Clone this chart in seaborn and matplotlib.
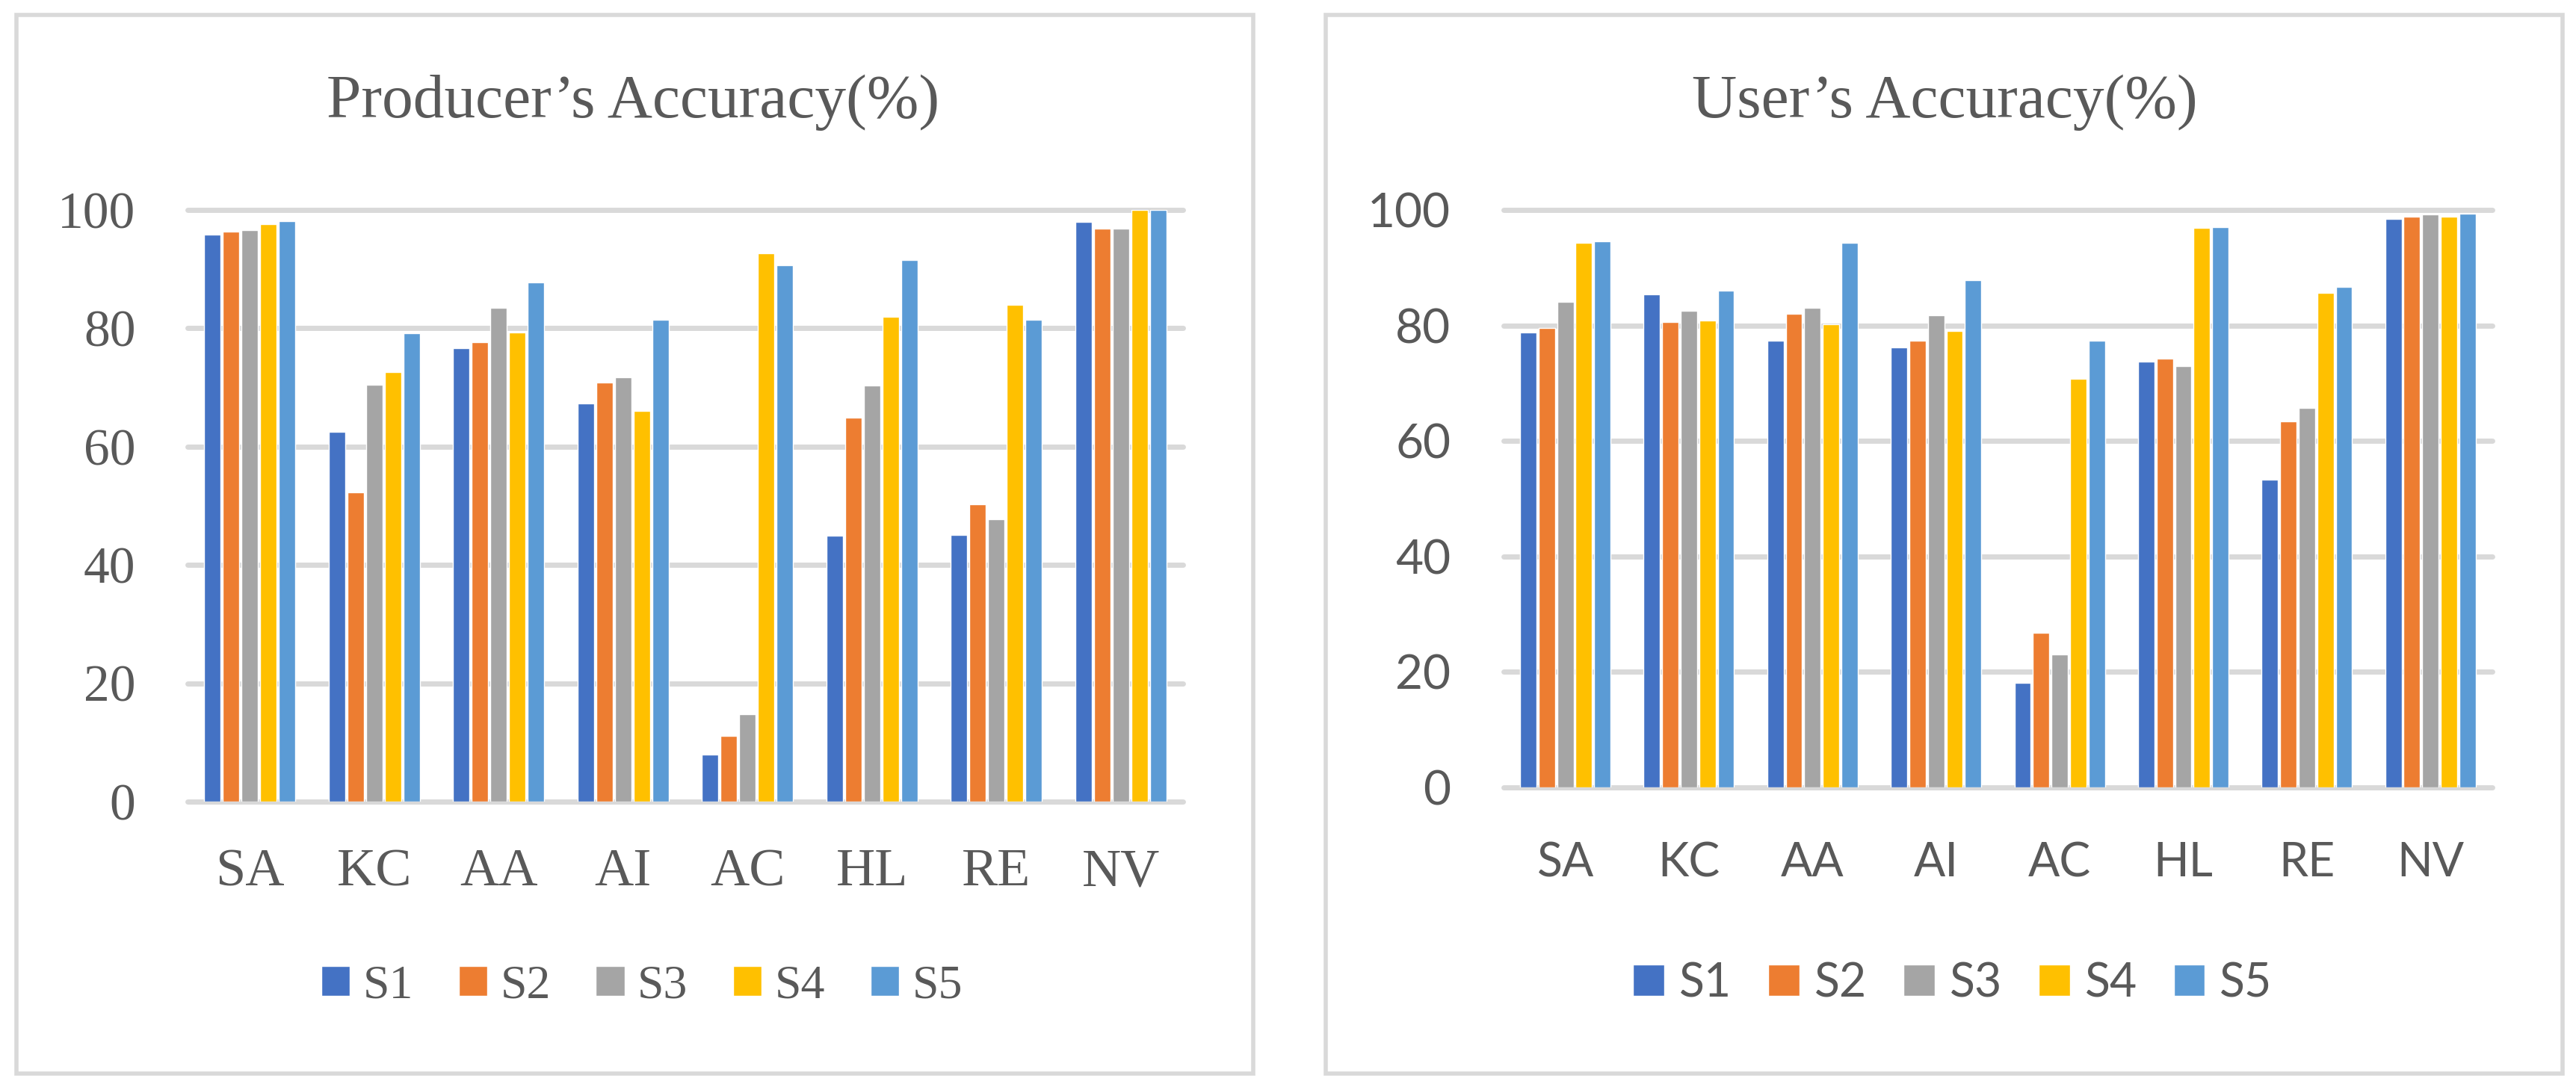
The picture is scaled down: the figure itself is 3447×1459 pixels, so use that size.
import pandas as pd
import seaborn as sns
import matplotlib.pyplot as plt
from matplotlib.patches import Rectangle, Patch

classes = ['SA', 'KC', 'AA', 'AI', 'AC', 'HL', 'RE', 'NV']
series = ['S1', 'S2', 'S3', 'S4', 'S5']
colors = ['#4472C4', '#ED7D31', '#A5A5A5', '#FFC000', '#5B9BD5']

# Producer's accuracy, one list per scenario
prod_s1 = [95.8, 62.5, 76.7, 67.3, 7.9, 45.0, 45.1, 98.0]
prod_s2 = [96.3, 52.3, 77.6, 70.8, 11.1, 64.9, 50.3, 96.8]
prod_s3 = [96.6, 70.4, 83.4, 71.7, 14.8, 70.3, 47.7, 96.9]
prod_s4 = [97.6, 72.6, 79.3, 66.0, 92.7, 81.9, 84.0, 100.0]
prod_s5 = [98.1, 79.2, 87.8, 81.4, 90.7, 91.6, 81.5, 100.0]

# User's accuracy
user_s1 = [78.8, 85.4, 77.3, 76.2, 18.1, 73.7, 53.3, 98.4]
user_s2 = [79.5, 80.6, 82.0, 77.4, 26.8, 74.3, 63.4, 98.8]
user_s3 = [84.1, 82.6, 83.0, 81.8, 23.0, 72.9, 65.7, 99.2]
user_s4 = [94.3, 80.8, 80.2, 79.0, 70.8, 96.9, 85.6, 98.9]
user_s5 = [94.6, 86.0, 94.3, 87.9, 77.4, 97.0, 86.7, 99.4]

yticks = [0, 20, 40, 60, 80, 100]


def to_long(cols):
    rows = []
    for s, vals in zip(series, cols):
        for c, v in zip(classes, vals):
            rows.append({'Class': c, 'Scenario': s, 'Value': v})
    return pd.DataFrame(rows)


prod = to_long([prod_s1, prod_s2, prod_s3, prod_s4, prod_s5])
user = to_long([user_s1, user_s2, user_s3, user_s4, user_s5])

sns.set_style('white')
txt = '#595959'
grid = '#D9D9D9'
serif = 'Liberation Serif'
sans = 'Lato'

fig = plt.figure(figsize=(34.48, 14.59), dpi=100)

# panel frames
for x0, x1 in [(22, 1677), (1774, 3429)]:
    fig.patches.append(Rectangle((x0 / 3448, 1 - 1437 / 1459), (x1 - x0) / 3448, (1437 - 20) / 1459,
                                 transform=fig.transFigure, fill=False, edgecolor=grid, lw=4))

ax1 = fig.add_axes([0.0728, 0.2646, 0.3863, 0.5428])
ax2 = fig.add_axes([0.5835, 0.2776, 0.3837, 0.5298])

# axes, data, font, ytick size, xtick size, ypad, xpad, title, title x, legend (x, y, size, handle, textpad, colspace)
panels = [
    (ax1, prod, serif, 50, 52, 50, 45, "Producer\u2019s Accuracy(%)", 0.2457,
     (0.2491, 0.0950, 46, 0.6, 0.27, 0.95)),
    (ax2, user, sans, 46, 45, 51, 52, "User\u2019s Accuracy(%)", 0.7546,
     (0.7578, 0.0980, 45, 0.67, 0.32, 0.78)),
]

for ax, df, fam, yfs, xfs, ypad, xpad, title, tx, leg in panels:
    sns.barplot(data=df, x='Class', y='Value', hue='Scenario', order=classes, hue_order=series,
                palette=colors, width=0.75, gap=0.12, saturation=1, ax=ax, legend=False, zorder=3)
    ax.set_ylim(0, 100)
    ax.set_xlim(-0.5, 7.5)
    ax.set_yticks(yticks)
    for t in yticks:
        ax.axhline(t, color=grid, lw=5, zorder=1, clip_on=False)
    for s in ax.spines.values():
        s.set_visible(False)
    ax.set_xlabel('')
    ax.set_ylabel('')
    ax.tick_params(axis='y', length=0, pad=ypad, labelsize=yfs, labelcolor=txt)
    ax.tick_params(axis='x', length=0, pad=xpad, labelsize=xfs, labelcolor=txt)
    for lab in ax.get_xticklabels() + ax.get_yticklabels():
        lab.set_family(fam)
    fig.text(tx, 0.906, title, ha='center', va='center', fontsize=60, color=txt, family=serif)
    lx, ly, lfs, hl, htp, cs = leg
    handles = [Patch(facecolor=c, label=s) for c, s in zip(colors, series)]
    fig.legend(handles=handles, loc='center', bbox_to_anchor=(lx, ly), ncol=5, frameon=False,
               prop={'family': fam, 'size': lfs}, labelcolor=txt, handlelength=hl, handleheight=hl,
               handletextpad=htp, columnspacing=cs)

fig.savefig('out.png', dpi=100)
